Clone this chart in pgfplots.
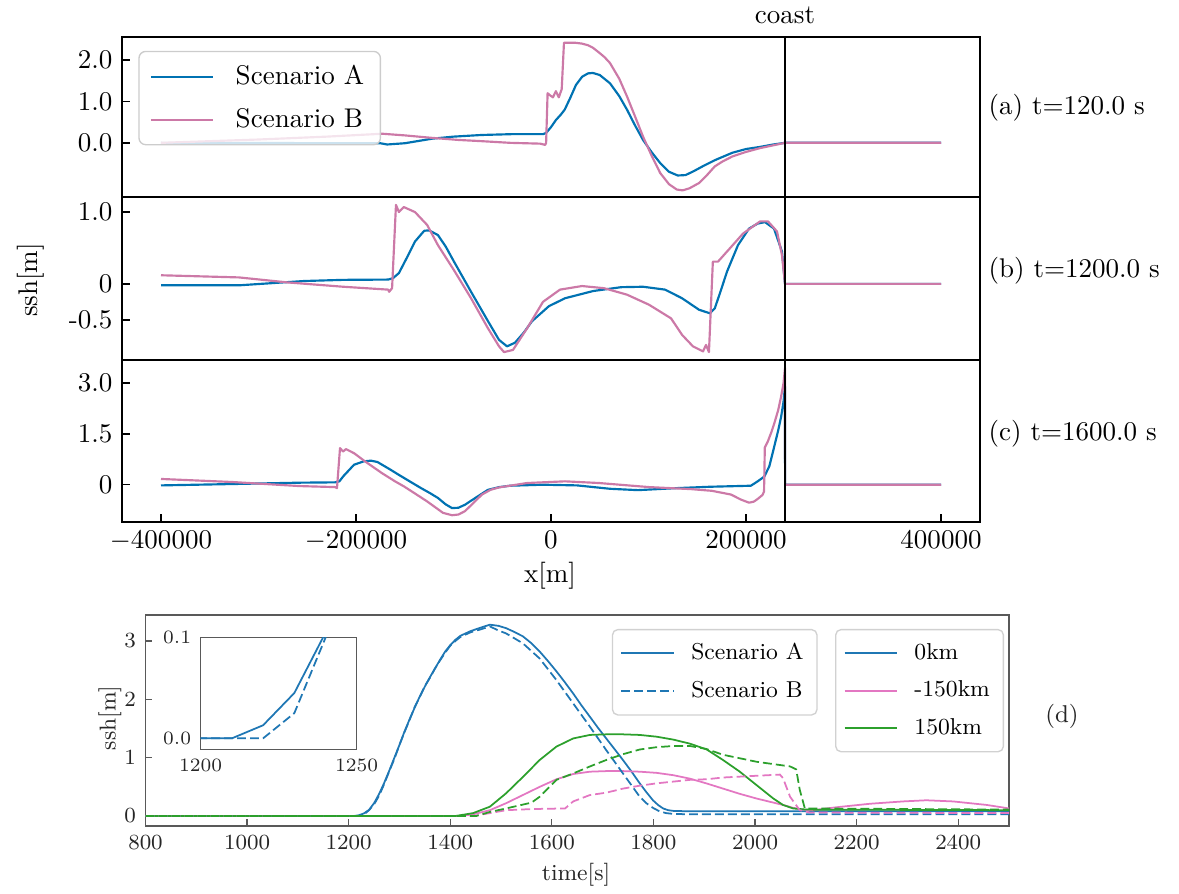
\documentclass[border=0pt]{standalone}
\usepackage{pgfplots}
\usepackage{pgfplotstable}
\pgfplotsset{compat=1.18}
\definecolor{cbblue}{HTML}{0072B2}
\definecolor{cbpink}{HTML}{CC79A7}
\definecolor{tabblue}{HTML}{1F77B4}
\definecolor{tabpink}{HTML}{E377C2}
\definecolor{tabgreen}{HTML}{2CA02C}
\definecolor{framegray}{gray}{0.35}

\pgfplotstableread{
t y
800 0
1200 0
1210 0
1220 0.013
1230 0.045
1240 0.105
1250 0.22
1260 0.38
1270 0.57
1280 0.78
1290 1.0
1300 1.22
1310 1.45
1320 1.66
1330 1.86
1340 2.05
1350 2.22
1360 2.38
1370 2.53
1380 2.68
1390 2.82
1400 2.93
1410 3.02
1420 3.09
1440 3.17
1460 3.23
1478 3.28
1495 3.26
1510 3.22
1525 3.16
1543 3.08
1560 2.96
1576 2.82
1592 2.66
1609 2.48
1625 2.3
1642 2.1
1658 1.9
1675 1.7
1691 1.51
1707 1.33
1724 1.14
1740 0.96
1757 0.76
1773 0.56
1786 0.41
1799 0.27
1809 0.19
1819 0.13
1829 0.1
1839 0.088
1872 0.08
2500 0.08
}\dAzero

\pgfplotstableread{
t y
800 0
1210 0
1220 0
1230 0.025
1240 0.1
1250 0.2
1260 0.35
1270 0.55
1280 0.77
1290 0.98
1300 1.22
1310 1.44
1320 1.65
1330 1.87
1340 2.04
1350 2.23
1360 2.37
1370 2.53
1380 2.67
1390 2.8
1400 2.92
1410 3.0
1420 3.07
1440 3.15
1460 3.2
1478 3.25
1495 3.18
1510 3.13
1543 2.96
1576 2.7
1609 2.33
1642 1.93
1675 1.53
1707 1.13
1740 0.73
1773 0.33
1786 0.22
1799 0.14
1812 0.08
1825 0.05
1840 0.035
1872 0.03
2500 0.03
}\dBzero

\pgfplotstableread{
t y
800 0
1420 0
1445 0.03
1478 0.1
1510 0.22
1543 0.36
1576 0.5
1609 0.63
1642 0.72
1675 0.76
1707 0.77
1740 0.77
1773 0.76
1806 0.74
1839 0.7
1872 0.64
1904 0.56
1937 0.47
1970 0.38
2003 0.3
2036 0.23
2055 0.19
2075 0.14
2095 0.11
2114 0.1
2160 0.15
2226 0.21
2291 0.25
2337 0.27
2390 0.25
2456 0.19
2500 0.13
}\dAm

\pgfplotstableread{
t y
800 0
1445 0
1478 0.05
1510 0.1
1563 0.12
1626 0.13
1642 0.25
1675 0.36
1707 0.4
1740 0.47
1773 0.52
1806 0.56
1839 0.59
1872 0.62
1904 0.63
1937 0.66
2003 0.69
2049 0.71
2055 0.65
2069 0.33
2088 0.1
2108 0.06
2500 0.05
}\dBm

\pgfplotstableread{
t y
800 0
1410 0
1445 0.05
1478 0.16
1510 0.39
1543 0.67
1576 0.96
1609 1.19
1642 1.33
1675 1.39
1707 1.4
1740 1.4
1773 1.39
1806 1.36
1839 1.31
1872 1.24
1905 1.14
1937 0.96
1970 0.76
2003 0.53
2036 0.3
2055 0.19
2075 0.13
2101 0.11
2500 0.1
}\dAp

\pgfplotstableread{
t y
800 0
1451 0
1478 0.07
1510 0.13
1560 0.23
1576 0.33
1609 0.62
1642 0.73
1675 0.85
1707 0.96
1740 1.06
1773 1.14
1806 1.18
1839 1.2
1872 1.2
1904 1.15
1937 1.05
2003 0.93
2036 0.89
2069 0.85
2081 0.8
2088 0.45
2098 0.13
2500 0.11
}\dBp

\pgfplotsset{
  toppanel/.style={
    scale only axis, anchor=north west, width=317.46pt,
    xmin=-440000, xmax=440000, scaled x ticks=false, scaled y ticks=false,
    axis line style={black, line width=0.55pt},
    tick align=inside, major tick length=3pt,
    tick style={black, line width=0.55pt},
    ytick pos=left, xtick pos=bottom,
    tick label style={font=\normalsize},
  },
  curveA/.style={cbblue, line width=0.8pt, line join=round},
  curveB/.style={cbpink, line width=0.8pt, line join=round},
  coastline/.style={black, line width=0.9pt, forget plot},
  dpanel/.style={
    scale only axis, anchor=north west,
    axis line style={framegray, line width=0.45pt},
    tick align=inside, major tick length=2.5pt,
    tick style={framegray, line width=0.45pt},
    ytick pos=left, xtick pos=bottom,
  },
  dlegend/.style={
    legend style={anchor=north west, draw=black!18, line width=0.5pt, fill=white,
      rounded corners=2pt, inner xsep=3pt, inner ysep=3pt, row sep=2.5pt,
      font=\fontsize{8.5}{10}\selectfont,
      /tikz/every odd column/.append style={column sep=4pt}},
    legend image code/.code={\draw[##1] (0pt,0pt) -- (19.5pt,0pt);},
    legend cell align=left,
  },
  sA/.style={line width=0.65pt},
  sB/.style={line width=0.65pt, dash pattern=on 3.3pt off 1.5pt},
}

\begin{document}
\begin{tikzpicture}
\useasboundingbox (0pt,0pt) rectangle (436.23pt,-330.78pt);

% ---------------- panel (a)
\begin{axis}[toppanel, at={(45.14pt,-13.69pt)}, height=59.2pt,
  ymin=-1.31, ymax=2.56, ytick={0,1,2}, yticklabels={$0.0$,$1.0$,$2.0$}, xtick=\empty,
  legend style={at={(0.019,0.914)}, anchor=north west, draw=black!20, line width=0.5pt,
    fill=white, fill opacity=0.8, text opacity=1, rounded corners=2.5pt,
    inner xsep=4pt, inner ysep=3pt, row sep=3.3pt, font=\normalsize,
    /tikz/every odd column/.append style={column sep=6pt}},
  legend image code/.code={\draw[#1] (0pt,0pt) -- (23pt,0pt);},
  legend cell align=left]
\addplot[curveA] table {
x y
-400000 0
-175000 -0.01
-168000 -0.04
-150000 -0.01
-122000 0.1
-100000 0.15
-71000 0.19
-40000 0.21
-8000 0.21
-5000 0.24
0 0.38
5000 0.55
10000 0.68
14000 0.8
20000 1.1
25600 1.4
32000 1.6
38000 1.68
43000 1.69
50000 1.64
60500 1.44
70000 1.13
78000 0.8
86000 0.43
94400 0.07
103000 -0.22
112000 -0.49
121000 -0.7
130000 -0.79
138000 -0.78
146000 -0.69
157000 -0.55
168000 -0.42
186000 -0.24
200000 -0.15
214000 -0.1
228000 -0.04
240000 0
400000 0
};
\addlegendentry{Scenario A}
\addplot[curveB] table {
x y
-400000 0
-300000 0.08
-230000 0.15
-173000 0.22
-150000 0.18
-122000 0.12
-95000 0.07
-71000 0.04
-42000 0.0
-11000 -0.02
-6000 -0.05
-5000 0.0
-3500 1.2
-1000 1.15
2000 1.1
5000 1.25
8000 1.1
11000 1.3
13300 2.42
25000 2.42
31800 2.4
38000 2.36
43000 2.3
50000 2.17
55000 2.07
60500 1.93
70000 1.55
78000 1.12
86000 0.65
94400 0.15
103000 -0.3
112000 -0.73
121000 -1.0
129000 -1.13
135000 -1.15
142000 -1.1
152000 -0.97
160000 -0.78
168000 -0.57
176000 -0.45
186000 -0.33
200000 -0.22
214000 -0.13
228000 -0.06
240000 0
400000 0
};
\addlegendentry{Scenario B}
\addplot[coastline] coordinates {(240000,-1.31) (240000,2.56)};
\end{axis}

% ---------------- panel (b)
\begin{axis}[toppanel, at={(45.14pt,-72.89pt)}, height=60.31pt,
  ymin=-1.06, ymax=1.21, ytick={-0.5,0,1}, yticklabels={-0.5,$0$,$1.0$}, xtick=\empty]
\addplot[curveA] table {
x y
-400000 -0.02
-320000 -0.02
-253000 0.04
-213000 0.056
-167000 0.06
-162000 0.08
-156000 0.15
-148000 0.36
-139500 0.59
-130000 0.74
-125000 0.745
-116000 0.68
-108000 0.52
-99500 0.31
-82000 -0.11
-64600 -0.52
-53300 -0.78
-45100 -0.87
-37000 -0.82
-28000 -0.68
-19500 -0.52
-2100 -0.31
14400 -0.2
43100 -0.1
71800 -0.046
94400 -0.04
117000 -0.08
134400 -0.2
151800 -0.36
163000 -0.41
168000 -0.34
174000 -0.1
180500 0.17
191800 0.54
203100 0.77
212000 0.84
219500 0.86
228700 0.77
236900 0.45
240000 0.0
400000 0
};
\addplot[curveB] table {
x y
-400000 0.12
-320000 0.09
-270000 0.02
-213000 -0.04
-167000 -0.08
-166000 -0.11
-163000 -0.06
-159000 1.1
-156000 1.0
-151000 1.07
-139500 1.0
-127000 0.82
-116000 0.54
-99500 0.19
-82000 -0.2
-64600 -0.62
-53300 -0.87
-48200 -0.95
-39000 -0.92
-24600 -0.62
-8200 -0.25
9200 -0.08
31800 -0.03
54400 -0.06
77900 -0.15
100500 -0.29
123100 -0.48
134400 -0.71
145600 -0.87
155900 -0.94
159000 -0.85
162000 -0.95
166000 0.31
171300 0.31
180500 0.45
196900 0.7
214400 0.87
222600 0.87
231800 0.73
236900 0.4
240000 0
400000 0
};
\addplot[coastline] coordinates {(240000,-1.06) (240000,1.21)};
\end{axis}

% ---------------- panel (c)
\begin{axis}[toppanel, at={(45.14pt,-133.2pt)}, height=59.94pt,
  ymin=-1.1, ymax=3.68, ytick={0,1.5,3}, yticklabels={$0$,$1.5$,$3.0$},
  xtick={-400000,-200000,0,200000,400000},
  xticklabels={$-400000$,$-200000$,$0$,$200000$,$400000$}]
\addplot[curveA] table {
x y
-400000 -0.02
-327000 0.02
-258000 0.06
-221500 0.07
-217000 0.1
-213000 0.25
-202000 0.59
-192000 0.69
-184600 0.71
-178000 0.67
-173300 0.59
-165000 0.45
-156000 0.29
-145000 0.1
-133300 -0.1
-124000 -0.25
-116000 -0.39
-108000 -0.58
-101500 -0.69
-95000 -0.68
-88200 -0.59
-76000 -0.36
-64600 -0.15
-53000 -0.07
-42000 -0.03
-8200 0
26700 -0.02
60500 -0.12
89200 -0.16
129200 -0.1
163100 -0.06
205000 -0.03
212000 0.1
218800 0.24
224000 0.55
229000 1.13
233000 1.6
236000 2.0
238500 2.45
240000 2.9
240100 0
400000 0
};
\addplot[curveB] table {
x y
-400000 0.17
-327000 0.08
-258000 -0.04
-221500 -0.07
-219500 -0.1
-216400 1.08
-213300 0.98
-210300 1.05
-202000 0.93
-190800 0.69
-173300 0.34
-160000 0.1
-150800 -0.05
-140000 -0.25
-127200 -0.49
-118000 -0.68
-110800 -0.83
-101500 -0.9
-95000 -0.88
-88200 -0.78
-80000 -0.55
-70800 -0.29
-62000 -0.15
-53300 -0.08
-24600 0.05
14400 0.1
49200 0.05
100500 -0.07
143600 -0.13
165000 -0.18
184600 -0.29
194900 -0.44
203100 -0.53
208000 -0.5
212000 -0.42
217000 -0.3
218500 -0.2
219300 1.1
222300 1.27
226000 1.55
229000 1.81
233000 2.2
236000 2.6
238500 3.0
240000 3.45
240100 0
400000 0
};
\addplot[coastline] coordinates {(240000,-1.1) (240000,3.68)};
\end{axis}

\node[font=\normalsize] at (290.45pt,-5.55pt) {coast};
\node[font=\normalsize, rotate=90] at (11.47pt,-103.6pt) {ssh[m]};
\node[font=\normalsize] at (203.5pt,-213.12pt) {x[m]};
\node[font=\normalsize, anchor=west, inner sep=0pt] at (365.56pt,-39.96pt) {(a) t=120.0 s};
\node[font=\normalsize, anchor=west, inner sep=0pt] at (365.56pt,-100.27pt) {(b) t=1200.0 s};
\node[font=\normalsize, anchor=west, inner sep=0pt] at (365.56pt,-160.58pt) {(c) t=1600.0 s};

% ---------------- panel (d)
\begin{axis}[dpanel, dlegend, at={(53.835pt,-227.55pt)}, width=319.5pt, height=78.07pt,
  xmin=800, xmax=2500, ymin=-0.171, ymax=3.446,
  xtick={800,1000,1200,1400,1600,1800,2000,2200,2400},
  xticklabels={$800$,$1000$,$1200$,$1400$,$1600$,$1800$,$2000$,$2200$,$2400$},
  ytick={0,1,2,3}, yticklabels={$0$,$1$,$2$,$3$},
  tick label style={font=\fontsize{8.5}{10}\selectfont, text=black!85},
  legend style={at={(0.540,0.934)}}]
\addlegendimage{tabblue, sA}
\addlegendentry{Scenario A}
\addlegendimage{tabblue, sB}
\addlegendentry{Scenario B}
\addplot[tabblue, sA, forget plot] table[x=t,y=y] {\dAzero};
\addplot[tabpink, sA, forget plot] table[x=t,y=y] {\dAm};
\addplot[tabgreen, sA, forget plot] table[x=t,y=y] {\dAp};
\addplot[tabblue, sB, forget plot] table[x=t,y=y] {\dBzero};
\addplot[tabpink, sB, forget plot] table[x=t,y=y] {\dBm};
\addplot[tabgreen, sB, forget plot] table[x=t,y=y] {\dBp};
\end{axis}

\begin{axis}[dlegend, scale only axis, anchor=north west, at={(53.835pt,-227.55pt)},
  width=319.5pt, height=78.07pt, hide axis,
  xmin=800, xmax=2500, ymin=-0.171, ymax=3.446,
  legend style={at={(0.7985,0.934)}}]
\addlegendimage{tabblue, sA}
\addlegendentry{0km}
\addlegendimage{tabpink, sA}
\addlegendentry{-150km}
\addlegendimage{tabgreen, sA}
\addlegendentry{150km}
\end{axis}

% ---------------- inset
\begin{axis}[dpanel, at={(74.26pt,-235.95pt)}, width=57.72pt, height=41.29pt,
  xmin=1200, xmax=1250, ymin=-0.0109, ymax=0.1,
  xtick={1200,1250}, xticklabels={$1200$,$1250$},
  ytick={0,0.1}, yticklabels={$0.0$,$0.1$},
  major tick length=2pt,
  tick label style={font=\fontsize{6.7}{8}\selectfont, text=black!85},
  axis background/.style={fill=white}]
\addplot[tabblue, sA] table[x=t,y=y] {\dAzero};
\addplot[tabblue, sB] table[x=t,y=y] {\dBzero};
\end{axis}

\node[font=\fontsize{8.5}{10}\selectfont, text=black!85, rotate=90] at (40.7pt,-265.66pt) {ssh[m]};
\node[font=\fontsize{8.5}{10}\selectfont, text=black!85] at (213.12pt,-323.75pt) {time[s]};
\node[font=\fontsize{9}{10}\selectfont, text=black!85] at (392.94pt,-264.92pt) {(d)};
\end{tikzpicture}
\end{document}
